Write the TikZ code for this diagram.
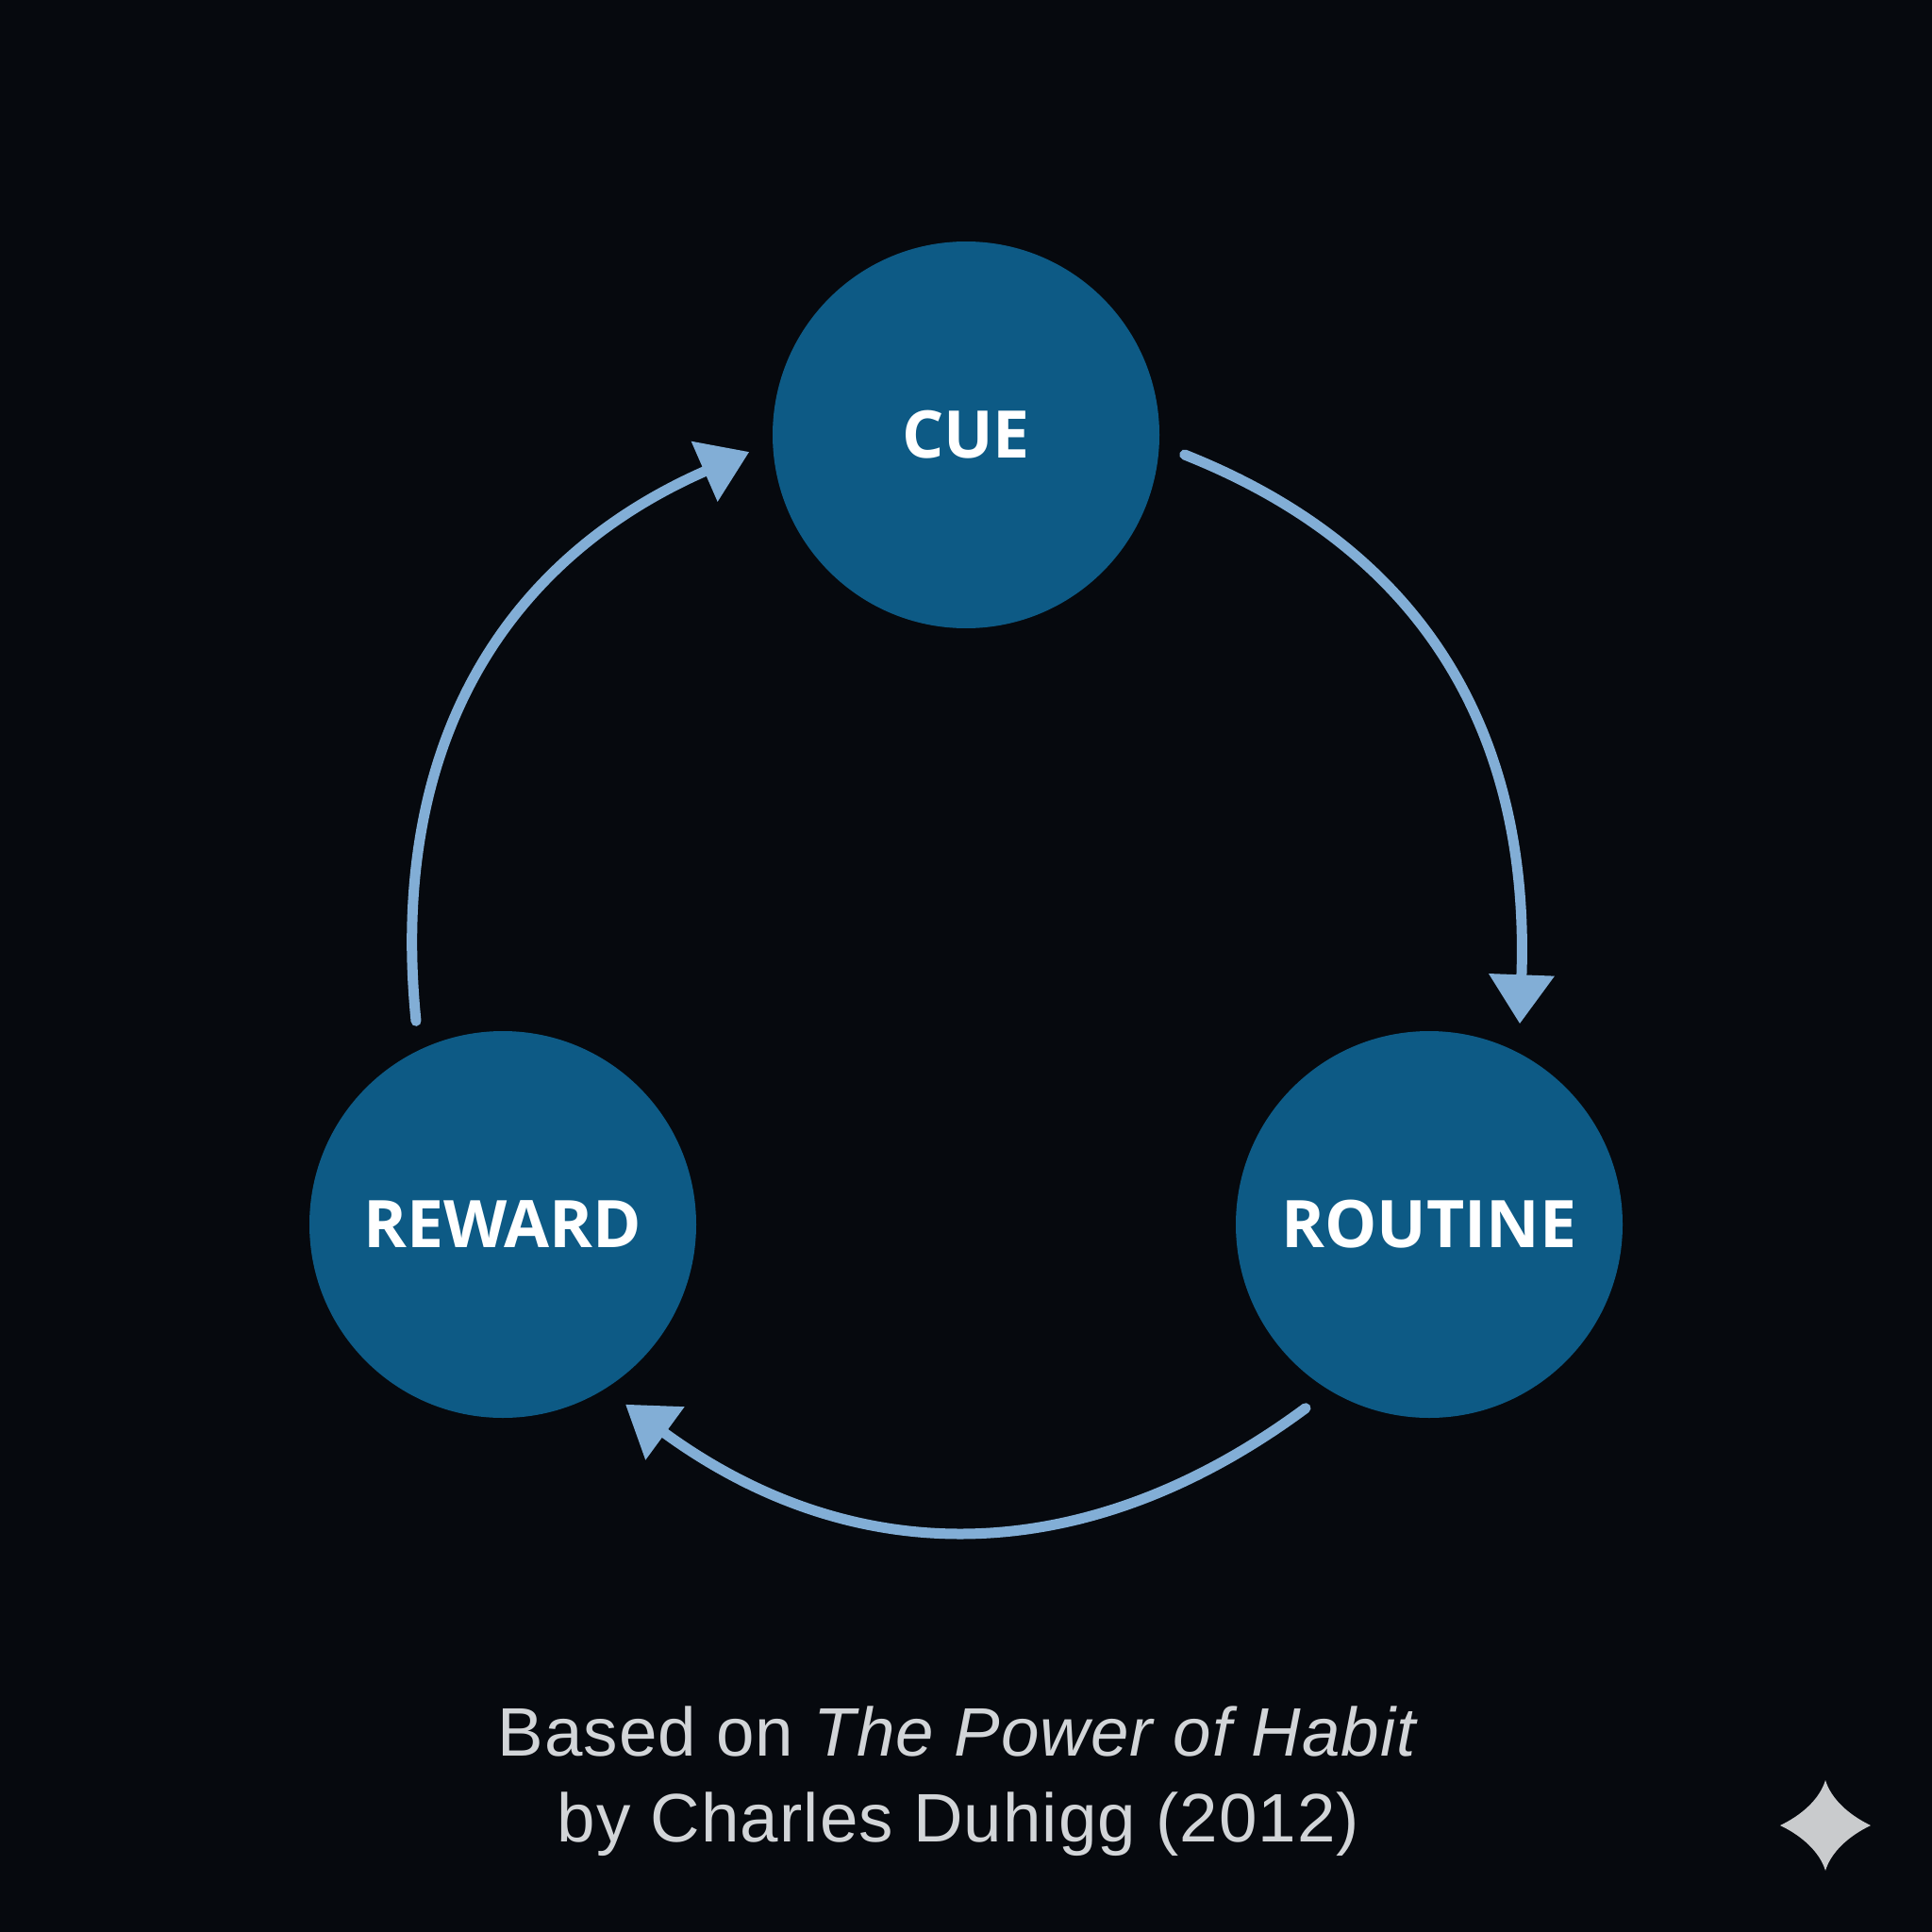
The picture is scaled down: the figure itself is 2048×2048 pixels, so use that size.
\documentclass[tikz,border=0pt]{standalone}
\usepackage{fontspec}
\usepackage{tikz}
\usetikzlibrary{arrows.meta}
\setmainfont{Open Sans}
\newfontfamily\captionfont[LetterSpace=1.5]{Liberation Sans}
\definecolor{nightbg}{HTML}{06090E}
\definecolor{habitblue}{HTML}{0D5A85}
\definecolor{flowblue}{HTML}{82AED6}
\definecolor{captiongray}{HTML}{D2D5D8}
\definecolor{stargray}{HTML}{C9CBCD}

\begin{document}
\begin{tikzpicture}[
        x=0.1mm, y=-0.1mm,
        stage/.style={circle, fill=habitblue, inner sep=0pt, minimum size=41mm, text=white, font=\fontsize{19.8}{24}\selectfont\bfseries},
        flow/.style={draw=flowblue, line width=1.1mm, line cap=round, -{Triangle[length=5.2mm, width=6.7mm]}},
        caption/.style={text=captiongray, align=center, inner sep=0pt, font=\captionfont\fontsize{20.7}{25.8}\selectfont}
      ]
        \fill[nightbg] (0, 0) rectangle (2048, 2048);
        \useasboundingbox (0, 0) rectangle (2048, 2048);

        \node[stage]  (cue)      at(1024, 461)                {CUE};
        \node[stage]  (routine)  at(1515, 1298)               {ROUTINE};
        \node[stage]  (reward)   at(533, 1298)                {REWARD};

        \draw[flow]  ([shift={(26, 21)}]cue.east) .. controls (1520, 587) and (1622, 790) .. ([shift={(96, -7)}]routine.north);
        \draw[flow]  ([shift={(-131, -11)}]routine.south) .. controls (1150, 1666) and (905, 1666) .. ([shift={(130, -15)}]reward.south);
        \draw[flow]  ([shift={(-92, -10)}]reward.north) .. controls (411, 783) and (540, 590) .. ([shift={(-24, 18)}]cue.west);

        \node[caption] (source) at(1016, 1888) {Based on \textit{The Power of Habit}\\by Charles Duhigg (2012)};

        \fill[stargray] (1935, 1887) .. controls (1941, 1907) and (1960, 1924) .. (1983, 1935)
          .. controls (1960, 1946) and (1941, 1963) .. (1935, 1983)
          .. controls (1929, 1963) and (1910, 1946) .. (1887, 1935)
          .. controls (1910, 1924) and (1929, 1907) .. (1935, 1887) -- cycle;
      \end{tikzpicture}
\end{document}
